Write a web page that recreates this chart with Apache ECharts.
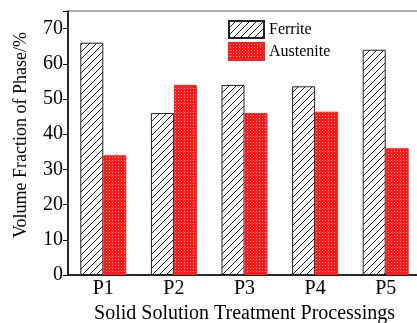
<!DOCTYPE html>
<html>
<head>
<meta charset="utf-8">
<script src="https://cdn.jsdelivr.net/npm/echarts@6/dist/echarts.min.js"></script>
<style>
html,body{margin:0;padding:0;background:#fff;}
#chart{width:417px;height:323px;}
</style>
</head>
<body>
<div id="chart"></div>
<script>
// Phase fractions after each solid solution treatment
const categories = ['P1', 'P2', 'P3', 'P4', 'P5'];
const ferrite = [66.0, 46.0, 54.0, 53.6, 64.0];
const austenite = [34.0, 54.0, 46.0, 46.4, 36.0];
const yTicks = [0, 10, 20, 30, 40, 50, 60, 70];

// Diagonal hatch tile for ferrite
function hatchTile() {
  const s = 7;
  const c = document.createElement('canvas');
  c.width = s; c.height = s;
  const g = c.getContext('2d');
  g.fillStyle = '#fff';
  g.fillRect(0, 0, s, s);
  g.strokeStyle = '#222';
  g.lineWidth = 1;
  g.beginPath();
  g.moveTo(-1, s + 1); g.lineTo(s + 1, -1);
  g.moveTo(-1, 1); g.lineTo(1, -1);
  g.moveTo(s - 1, s + 1); g.lineTo(s + 1, s - 1);
  g.stroke();
  return c;
}

// Red dotted tile for austenite
function dotTile() {
  const c = document.createElement('canvas');
  c.width = 3; c.height = 3;
  const g = c.getContext('2d');
  g.fillStyle = '#ff1a1a';
  g.fillRect(0, 0, 3, 3);
  g.fillStyle = '#ffb0b0';
  g.fillRect(1, 1, 1, 1);
  return c;
}

const hatch = { image: hatchTile(), repeat: 'repeat' };
const dots = { image: dotTile(), repeat: 'repeat' };
const font = 'Liberation Serif';

const chart = echarts.init(document.getElementById('chart'));
chart.setOption({
  animation: false,
  textStyle: { fontFamily: font },
  grid: {
    left: 68, top: 11, right: -4, bottom: 48,
    outerBoundsMode: 'none',
    containLabel: false,
    show: true, borderColor: '#555', borderWidth: 1, backgroundColor: 'transparent'
  },
  legend: {
    left: 228, top: 20, orient: 'vertical',
    padding: 0,
    icon: 'rect',
    itemWidth: 35, itemHeight: 17, itemGap: 3,
    textStyle: { fontFamily: font, fontSize: 16, color: '#000' },
    data: ['Ferrite', 'Austenite']
  },
  xAxis: {
    type: 'category',
    data: categories,
    name: 'Solid Solution Treatment Processings',
    nameLocation: 'middle',
    nameGap: 20,
    nameTextStyle: { fontFamily: font, fontSize: 20, color: '#000' },
    axisLine: { lineStyle: { color: '#000', width: 1.5 } },
    axisTick: { show: false },
    axisLabel: { fontFamily: font, fontSize: 20, color: '#000', margin: 4 }
  },
  yAxis: {
    type: 'value',
    min: 0, max: 75, interval: 10,
    name: 'Volume Fraction of Phase/%',
    nameLocation: 'middle',
    nameGap: 38,
    nameTextStyle: { fontFamily: font, fontSize: 18, color: '#000', padding: [0, 0, 0, 16] },
    axisLine: { show: true, lineStyle: { color: '#000', width: 1.5 } },
    axisTick: { show: true, length: 5, lineStyle: { color: '#000' } },
    axisLabel: {
      fontFamily: font, fontSize: 20, color: '#000', margin: 5,
      formatter: v => (yTicks.indexOf(v) >= 0 ? String(v) : '')
    },
    splitLine: { show: false }
  },
  series: [
    {
      name: 'Ferrite', type: 'bar', data: ferrite,
      barWidth: 23, barGap: '0%',
      itemStyle: { color: hatch, borderColor: '#222', borderWidth: 1 }
    },
    {
      name: 'Austenite', type: 'bar', data: austenite,
      barWidth: 23,
      itemStyle: { color: dots, borderColor: '#ff2020', borderWidth: 1 }
    }
  ]
});
</script>
</body>
</html>
